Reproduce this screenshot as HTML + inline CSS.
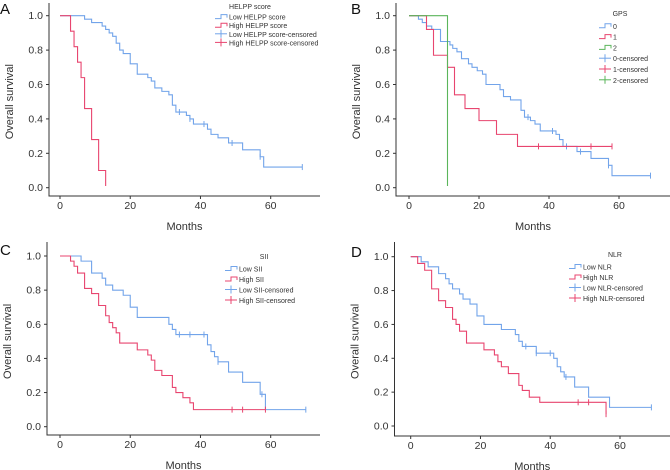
<!DOCTYPE html>
<html><head><meta charset="utf-8"><style>
body{margin:0;background:#fff;}
svg{display:block;font-family:"Liberation Sans",sans-serif;}
</style></head><body>
<svg id="c" width="670" height="470" viewBox="0 0 670 470"></svg>
<script>
const aLowT=[7,9,12,13,14,15,16,17,18,20,22,25,26,27,29,31,32,33,36,37,38,42,43,45,48,52,57,58];
const aLowS=[0.98,0.96,0.94,0.92,0.90,0.88,0.84,0.80,0.78,0.72,0.66,0.64,0.62,0.58,0.56,0.54,0.48,0.44,0.42,0.40,0.37,0.34,0.31,0.29,0.26,0.22,0.18,0.12];
const aLowC=[34,37,41,49,57,69];
const aHighT=[3,4,5,6,7,9,11,13];
const aHighS=[0.91,0.82,0.73,0.64,0.46,0.28,0.10,0.01];
const bG0T=[2.7,3.8,5,6.5,9,11.7,12.5,13.7,15,17,18,19.5,21,22,26,27,29,32,33,34.7,36,37.5,42,43,44,48,52,57,58];
const bG0S=[0.98,0.96,0.94,0.92,0.85,0.83,0.81,0.79,0.75,0.72,0.70,0.68,0.66,0.60,0.57,0.53,0.51,0.45,0.41,0.39,0.37,0.33,0.31,0.28,0.24,0.21,0.17,0.13,0.07];
const bG0C=[34,41,45,49,57,69];
const bG1T=[5,7,11,13,16,20,25,31];
const bG1S=[0.92,0.77,0.70,0.54,0.46,0.39,0.31,0.24];
const bG1C=[37,52,58];
const bG2T=[11];
const bG2S=[0.01];
const cLowT=[6,9,12,13,15,18,20,22,31,32,33,42,43,44,45,48,52,57,58.5];
const cLowS=[0.97,0.90,0.87,0.83,0.80,0.77,0.70,0.64,0.60,0.57,0.54,0.48,0.44,0.41,0.38,0.32,0.26,0.19,0.10];
const cLowC=[34,37,41,45,57.5,70];
const cHighT=[3,4,5,7,9,11,13,14,15,16,17,22,25,26,27,29,32,33,35,37,38];
const cHighS=[0.97,0.94,0.90,0.81,0.78,0.71,0.65,0.61,0.58,0.55,0.49,0.45,0.42,0.39,0.33,0.30,0.23,0.20,0.17,0.14,0.10];
const cHighC=[49,52,58.5];
const dLowT=[3,5,8,10,11,12,14,15,17,19,21,26,30,31,32,36,41,42,43,44,47,51,57];
const dLowS=[0.97,0.94,0.90,0.87,0.84,0.81,0.78,0.75,0.72,0.65,0.60,0.57,0.54,0.50,0.47,0.43,0.40,0.35,0.32,0.29,0.23,0.17,0.11];
const dLowC=[33,36,40,44.5,69];
const dHighT=[2,4,6,8,10,12,13,14,16,21,24,25,26,28,31,32,34,37,56];
const dHighS=[0.96,0.92,0.81,0.74,0.70,0.63,0.60,0.56,0.49,0.45,0.42,0.38,0.35,0.31,0.24,0.21,0.17,0.14,0.07];
const dHighC=[48,51,56];
const xTicks=[0,20,40,60];
const yTicks=[0,0.2,0.4,0.6,0.8,1.0];

const BLUE="#72a4ea",RED="#e8456f",GREEN="#5bb55b";
const svg=document.getElementById('c');
const NS="http://www.w3.org/2000/svg";
function mk(tag,attrs,parent,text){const e=document.createElementNS(NS,tag);for(const k in attrs)e.setAttribute(k,attrs[k]);if(text!=null)e.textContent=text;(parent||svg).appendChild(e);return e;}

function panel(p){
  const g=mk('g',{});
  
  
  const X=t=>p.x0+(p.x60-p.x0)*t/60;
  const Y=s=>p.y0+(p.y1-p.y0)*s;
  const ax=mk('path',{d:`M${p.ax},${p.axTop}V${p.ab}H${p.axRight}`,fill:'none',stroke:'#333','stroke-width':1},g);
  
  yTicks.forEach(v=>{
    mk('line',{x1:p.ax-3,x2:p.ax,y1:Y(v),y2:Y(v),stroke:'#333'},g);
    const t=mk('text',{x:p.ax-6,y:Y(v)+3.5,'text-anchor':'end','font-size':10.5,fill:'#333'},g,v.toFixed(1));
    
  });
  xTicks.forEach(v=>{
    mk('line',{x1:X(v),x2:X(v),y1:p.ab,y2:p.ab+3,stroke:'#333'},g);
    const t=mk('text',{x:X(v),y:p.ab+13,'text-anchor':'middle','font-size':10.5,fill:'#333'},g,v);
    
  });
  const xl=mk('text',{x:(p.ax+p.axRight)/2,y:p.ab+34,'text-anchor':'middle','font-size':11,fill:'#333'},g,'Months');
  
  const yl=mk('text',{x:0,y:0,transform:`translate(${p.ax-36},${(p.y0+p.y1)/2}) rotate(-90)`,'text-anchor':'middle','font-size':11,fill:'#333'},g,'Overall survival');
  
  const lt=mk('text',{x:p.lx,y:p.ly,'font-size':15,fill:'#111'},g,p.letter);
  
  p.series.forEach(s=>{
    let d=`M${X(0)},${Y(1)}`;
    s.t.forEach((t,i)=>{d+=`H${X(t)}V${Y(s.s[i])}`;});
    const lastC=s.c.length?Math.max(...s.c):0;
    const lastT=s.t.length?s.t[s.t.length-1]:0;
    if(lastC>lastT)d+=`H${X(lastC)}`;
    const path=mk('path',{d,fill:'none',stroke:s.col,'stroke-width':1.1},g);
    
    s.c.forEach(ct=>{
      let v=1;s.t.forEach((t,i)=>{if(t<=ct)v=s.s[i];});
      const m=mk('line',{x1:X(ct),x2:X(ct),y1:Y(v)-3,y2:Y(v)+3,stroke:s.col,'stroke-width':1},g);
      
    });
  });
  const lg=mk('g',{},g);
  
  mk('text',{x:p.lgTitleX,y:p.lgY,'font-size':7,fill:'#333','text-anchor':'middle'},lg,p.lgTitle);
  p.lgItems.forEach((it,i)=>{
    const y=p.lgY+p.lgGap*(i+1)+1;
    const e=mk('g',{},lg);
    
    if(it.type==='step') mk('path',{d:`M${p.lgX},${y}H${p.lgX+6}V${y-4}H${p.lgX+12}V${y-1}`,fill:'none',stroke:it.col,'stroke-width':1},e);
    else {mk('line',{x1:p.lgX,x2:p.lgX+12,y1:y-2,y2:y-2,stroke:it.col},e);mk('line',{x1:p.lgX+6,x2:p.lgX+6,y1:y-6,y2:y+2,stroke:it.col},e);}
    mk('text',{x:p.lgX+14,y:y+1,'font-size':7,fill:'#333'},e,it.label);
  });
}

panel({letter:'A',lx:0,ly:14,ax:49,axTop:3,ab:196,axRight:320,x0:60,x60:270.7,y0:187.7,y1:15.7,
 series:[{key:'low-helpp',t:aLowT,s:aLowS,c:aLowC,col:BLUE},{key:'high-helpp',t:aHighT,s:aHighS,c:[],col:RED}],
 lgTitle:'HELPP score',lgTitleX:250,lgY:9,lgGap:8.6,lgX:215,
 lgItems:[{type:'step',col:BLUE,label:'Low HELPP score'},{type:'step',col:RED,label:'High HELPP score'},{type:'cens',col:BLUE,label:'Low HELPP score-censored'},{type:'cens',col:RED,label:'High HELPP score-censored'}]});
panel({letter:'B',lx:351,ly:14,ax:396,axTop:3,ab:196,axRight:670,x0:409,x60:619,y0:187.7,y1:15.7,
 series:[{key:'gps-0',t:bG0T,s:bG0S,c:bG0C,col:BLUE},{key:'gps-1',t:bG1T,s:bG1S,c:bG1C,col:RED},{key:'gps-2',t:bG2T,s:bG2S,c:[],col:GREEN}],
 lgTitle:'GPS',lgTitleX:620,lgY:16,lgGap:10.8,lgX:599,
 lgItems:[{type:'step',col:BLUE,label:'0'},{type:'step',col:RED,label:'1'},{type:'step',col:GREEN,label:'2'},{type:'cens',col:BLUE,label:'0-censored'},{type:'cens',col:RED,label:'1-censored'},{type:'cens',col:GREEN,label:'2-censored'}]});
panel({letter:'C',lx:0,ly:255,ax:47,axTop:242,ab:435,axRight:320,x0:60,x60:270.7,y0:426.7,y1:256,
 series:[{key:'low-sii',t:cLowT,s:cLowS,c:cLowC,col:BLUE},{key:'high-sii',t:cHighT,s:cHighS,c:cHighC,col:RED}],
 lgTitle:'SII',lgTitleX:264,lgY:259,lgGap:10.5,lgX:225,
 lgItems:[{type:'step',col:BLUE,label:'Low SII'},{type:'step',col:RED,label:'High SII'},{type:'cens',col:BLUE,label:'Low SII-censored'},{type:'cens',col:RED,label:'High SII-censored'}]});
panel({letter:'D',lx:351,ly:257,ax:394.5,axTop:242,ab:436,axRight:670,x0:410.7,x60:620,y0:426,y1:256.7,
 series:[{key:'low-nlr',t:dLowT,s:dLowS,c:dLowC,col:BLUE},{key:'high-nlr',t:dHighT,s:dHighS,c:dHighC,col:RED}],
 lgTitle:'NLR',lgTitleX:615,lgY:257,lgGap:10.5,lgX:569,
 lgItems:[{type:'step',col:BLUE,label:'Low NLR'},{type:'step',col:RED,label:'High NLR'},{type:'cens',col:BLUE,label:'Low NLR-censored'},{type:'cens',col:RED,label:'High NLR-censored'}]});
</script>
</body></html>
